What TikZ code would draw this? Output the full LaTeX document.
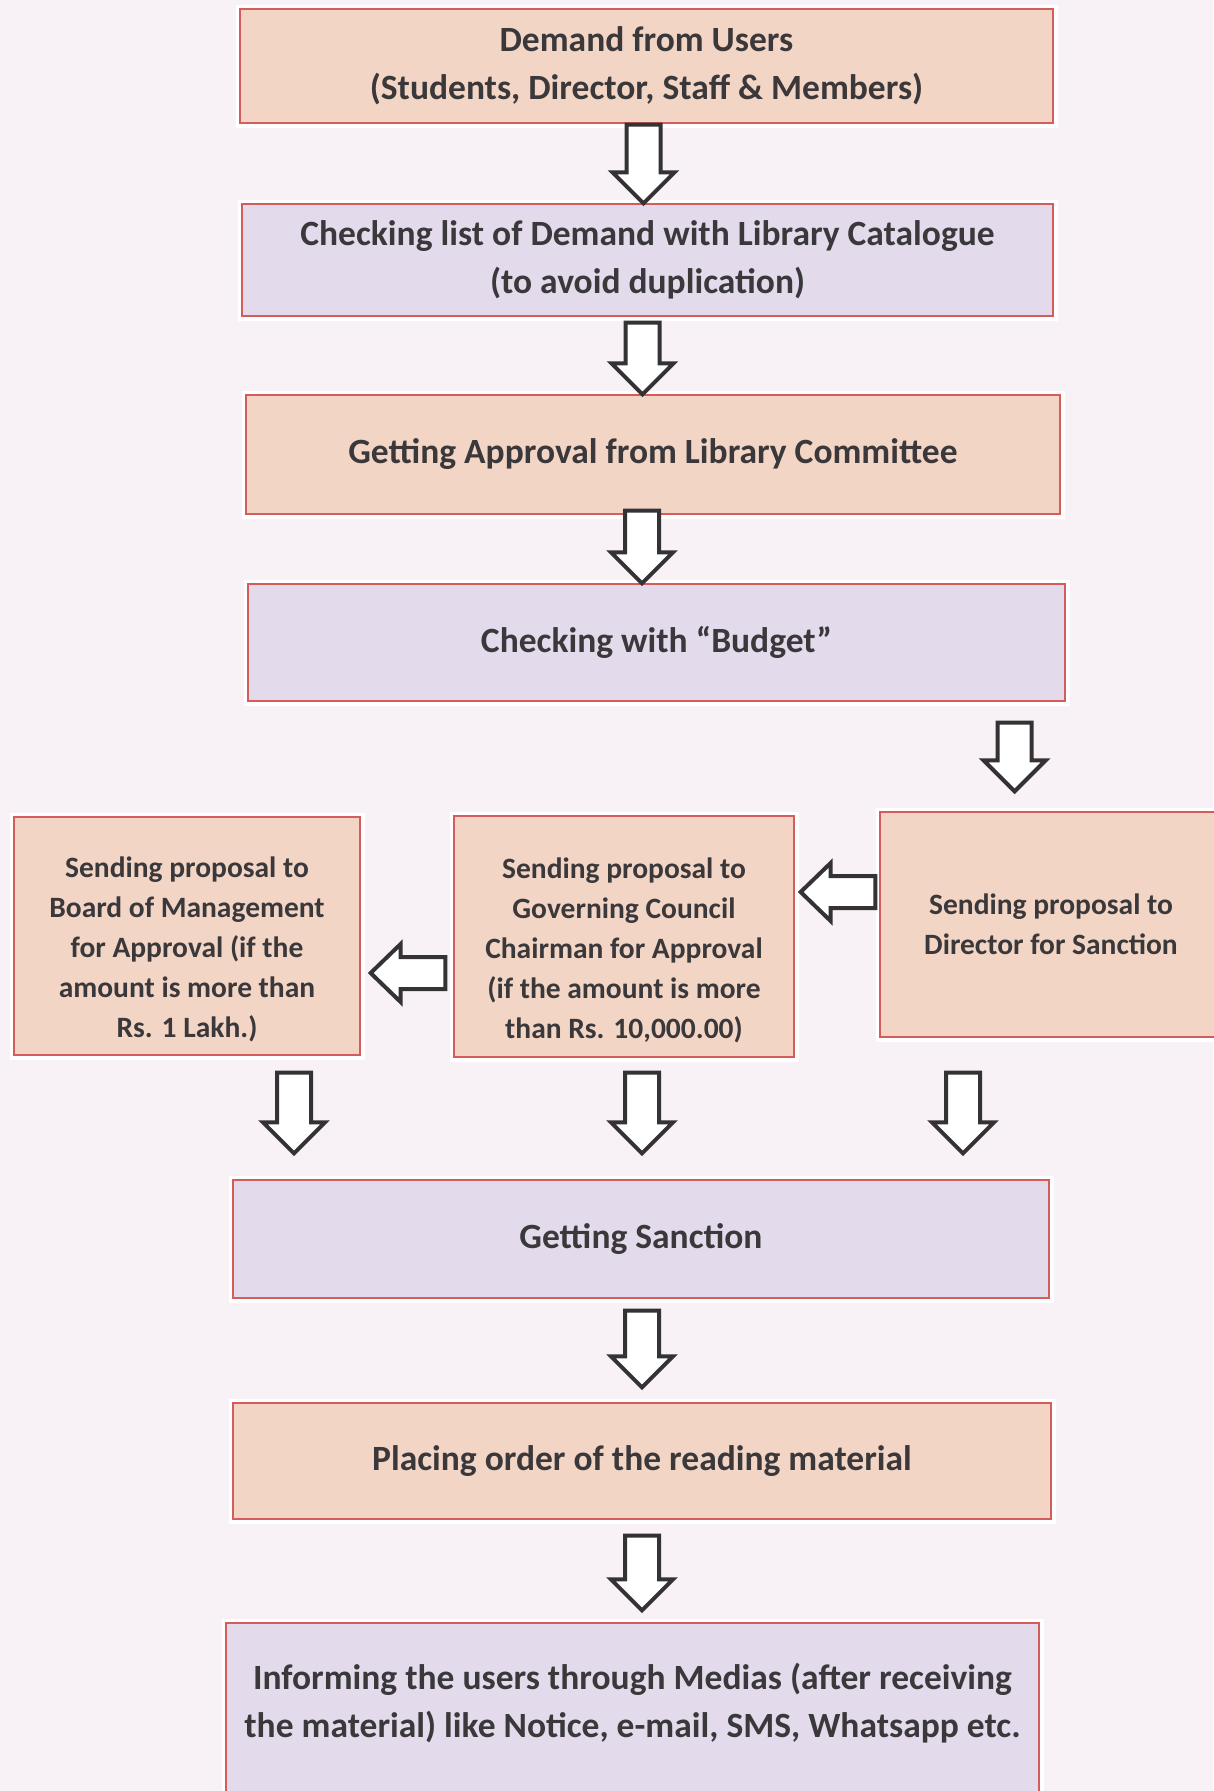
\documentclass[tikz,border=0pt]{standalone}
\usepackage{fontspec}
\setmainfont{Carlito}
\usetikzlibrary{calc,shadows}
\definecolor{bgc}{RGB}{248,241,246}
\definecolor{peach}{RGB}{242,213,197}
\definecolor{lav}{RGB}{227,219,236}
\definecolor{edge}{RGB}{214,92,92}
\definecolor{txt}{RGB}{58,56,58}
\definecolor{arr}{RGB}{52,50,52}
\tikzset{
  box/.style={draw=edge, line width=1.3pt, text=txt, align=center, inner sep=0pt,
    drop shadow={opacity=0.35, shadow xshift=2pt, shadow yshift=-4pt, fill=black!60},
    preaction={draw=white, line width=9pt}},
  peachbox/.style={box, fill=peach},
  lavbox/.style={box, fill=lav},
  bigtext/.style={font=\fontsize{35.5}{48}\selectfont\bfseries},
  smalltext/.style={font=\fontsize{29.5}{40}\selectfont\bfseries},
  blockarrow/.style={draw=arr, fill=white, line width=4pt, line join=miter}
}
\newcommand\downblock[2]{\draw[blockarrow] let \p1=(#1), \p2=(#2) in
  (\x1-17pt,\y1) -- (\x1+17pt,\y1) -- (\x1+17pt,\y2+31pt) -- (\x1+31pt,\y2+31pt)
  -- (\x1,\y2) -- (\x1-31pt,\y2+31pt) -- (\x1-17pt,\y2+31pt) -- cycle;}
\newcommand\leftblock[2]{\draw[blockarrow] let \p1=(#1), \p2=(#2) in
  (\x1,\y1+16pt) -- (\x1,\y1-16pt) -- (\x2+30pt,\y1-16pt) -- (\x2+30pt,\y1-29pt)
  -- (\x2,\y1) -- (\x2+30pt,\y1+29pt) -- (\x2+30pt,\y1+16pt) -- cycle;}
\begin{document}
\begin{tikzpicture}[x=1pt,y=1pt]
\useasboundingbox (0,0) rectangle (1213,-1791);
\fill[bgc] (0,0) rectangle (1213,-1791);

\node[peachbox, bigtext, minimum width=813pt, minimum height=114pt] (demand) at (646.5,-66)
  {Demand from Users\\(Students, Director, Staff \& Members)};
\node[lavbox, bigtext, minimum width=811pt, minimum height=112pt] (check) at (647.5,-260)
  {Checking list of Demand with Library Catalogue\\(to avoid duplication)};
\node[peachbox, bigtext, minimum width=814pt, minimum height=119pt] (approval) at (653,-454.5)
  {Getting Approval from Library Committee};
\node[lavbox, bigtext, minimum width=817pt, minimum height=117pt] (budget) at (656.5,-642.5)
  {Checking with ``Budget''};
\node[peachbox, smalltext, minimum width=342pt, minimum height=225pt] (dir) at (1051,-924.5)
  {Sending proposal to\\Director for Sanction};
\node[peachbox, smalltext, minimum width=340pt, minimum height=241pt] (gov) at (624,-936.5)
  {\rule{0pt}{48pt}Sending proposal to\\Governing Council\\Chairman for Approval\\(if the amount is more\\than Rs. 10,000.00)};
\node[peachbox, smalltext, minimum width=346pt, minimum height=238pt] (board) at (187,-936)
  {\rule{0pt}{48pt}Sending proposal to\\Board of Management\\for Approval (if the\\amount is more than\\Rs. 1 Lakh.)};
\node[lavbox, bigtext, minimum width=816pt, minimum height=118pt] (sanction) at (641,-1239)
  {Getting Sanction};
\node[peachbox, bigtext, minimum width=818pt, minimum height=116pt] (order) at (642,-1461)
  {Placing order of the reading material};
\node[lavbox, bigtext, minimum width=813pt, minimum height=177pt] (inform) at (632.5,-1711.5)
  {Informing the users through Medias (after receiving\\the material) like Notice, e-mail, SMS, Whatsapp etc.\rule[-22pt]{0pt}{0pt}};

\downblock{$(demand.south)+(-3,-1)$}{check.north}
\downblock{$(check.south)+(-5,-6)$}{approval.north}
\downblock{$(approval.south)+(-11,4)$}{budget.north}
\downblock{$(budget.south east)+(-51,-21)$}{$(dir.north)+(0,20)$}
\leftblock{$(dir.west)+(-4,32.5)$}{$(gov.east)+(6,0)$}
\leftblock{$(gov.west)+(-8,-36.5)$}{$(board.east)+(10,0)$}
\downblock{$(board.south)+(107,-17)$}{$(sanction.north)+(0,26)$}
\downblock{$(gov.south)+(18,-15)$}{$(sanction.north)+(0,26)$}
\downblock{$(dir.south)+(-88,-35)$}{$(sanction.north)+(0,26)$}
\downblock{$(sanction.south)+(1,-12)$}{$(order.north)+(0,15)$}
\downblock{$(order.south)+(0,-16)$}{$(inform.north)+(0,12)$}
\end{tikzpicture}
\end{document}
